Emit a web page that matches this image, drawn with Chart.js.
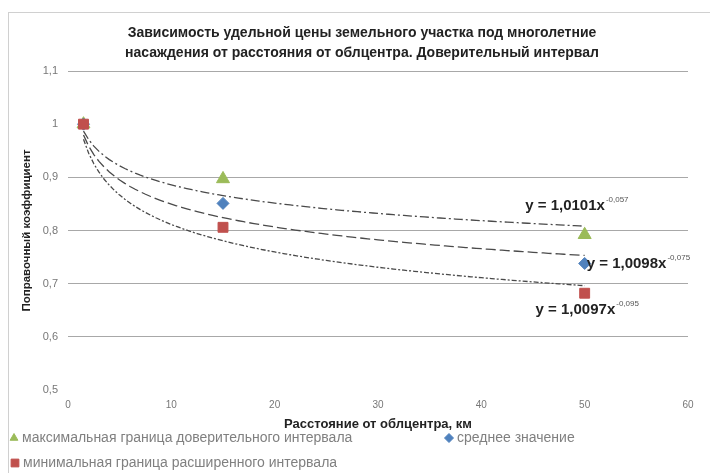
<!DOCTYPE html>
<html>
<head>
<meta charset="utf-8">
<script src="https://cdn.jsdelivr.net/npm/chart.js@4.4.1/dist/chart.umd.min.js"></script>
<style>
  body { margin: 0; background: #fff; }
  #wrap { position: relative; width: 710px; height: 473px; }
  #frame { position: absolute; left: 8px; top: 12px; width: 720px; height: 480px; border: 1px solid #d0d0d0; }
  canvas { position: absolute; left: 0; top: 0; }
</style>
</head>
<body>
<div id="wrap">
  <div id="frame"></div>
  <canvas id="chart" width="710" height="473"></canvas>
</div>
<script>
"use strict"

// data
const distances = [1.5, 15, 50];
const maxBound = [1, 0.897, 0.792];
const meanValue = [1, 0.851, 0.738];
const minBound = [1, 0.806, 0.682];

const seriesNames = [
  "максимальная граница доверительного интервала",
  "среднее значение",
  "минимальная граница расширенного интервала"
];
const seriesColors = ["#9bbb59", "#4f81bd", "#c0504d"];
const seriesShapes = ["triangle", "rectRot", "rect"];

// power trendlines y = a * x^b as printed on the chart
const trendA = [1.0101, 1.0098, 1.0097];
const trendB = [-0.057, -0.075, -0.095];
const trendAText = ["1,0101", "1,0098", "1,0097"];
const trendBText = ["-0,057", "-0,075", "-0,095"];
const trendLabelAt = [[49.2, 0.847, "center"], [50.2, 0.738, "left"], [50.2, 0.65, "center"]];
const trendDash = [[9, 3, 2, 3], [10, 4], [5, 2, 2, 2]];

const titleLines = [
  "Зависимость удельной цены земельного участка под многолетние",
  "насаждения от расстояния от облцентра. Доверительный интервал"
];
const xTitle = "Расстояние от облцентра, км";
const yTitle = "Поправочный коэффициент";

const FONT = "'Liberation Sans', Arial, sans-serif";

function toPoints(ys) {
  return distances.map((d, i) => ({ x: d, y: ys[i] }));
}

function trendPoints(k) {
  let pts = [];
  for (let x = distances[0]; x <= distances[distances.length - 1]; x += 0.5) {
    pts.push({ x: x, y: trendA[k] * Math.pow(x, trendB[k]) });
  }
  return pts;
}

function commaNum(v) {
  return String(Math.round(v * 10) / 10).replace(".", ",");
}

// chart title, centred a little right of the canvas middle as in the original
const titleBlock = {
  id: "titleBlock",
  afterDraw(chart) {
    const ctx = chart.ctx;
    ctx.save();
    ctx.font = "bold 14px " + FONT;
    ctx.fillStyle = "#222";
    ctx.textAlign = "center";
    ctx.textBaseline = "middle";
    ctx.fillText(titleLines[0], 362, 33);
    ctx.fillText(titleLines[1], 362, 53);
    ctx.restore();
  }
};

// writes the trendline equations next to the curves
const equationLabels = {
  id: "equationLabels",
  afterDatasetsDraw(chart) {
    const ctx = chart.ctx;
    const xs = chart.scales.x;
    const ys = chart.scales.y;
    ctx.save();
    ctx.textBaseline = "middle";
    ctx.textAlign = "left";
    for (let k = 0; k < trendA.length; k++) {
      const main = "y = " + trendAText[k] + "x";
      ctx.font = "bold 15px " + FONT;
      const w1 = ctx.measureText(main).width;
      ctx.font = "8px " + FONT;
      const w2 = ctx.measureText(trendBText[k]).width;
      const px = xs.getPixelForValue(trendLabelAt[k][0]);
      const py = ys.getPixelForValue(trendLabelAt[k][1]);
      const left = trendLabelAt[k][2] === "center" ? px - (w1 + w2) / 2 : px;
      ctx.font = "bold 15px " + FONT;
      ctx.fillStyle = "#222";
      ctx.fillText(main, left, py);
      ctx.font = "8px " + FONT;
      ctx.fillStyle = "#555";
      ctx.fillText(trendBText[k], left + w1 + 1, py - 6);
    }
    ctx.restore();
  }
};

// legend laid out like the original: two items on the first row, one on the second
const legendSlots = [[14, 438], [449, 438], [15, 463]];
const legendRadius = [4.5, 4.5, 5.5];
const bottomLegend = {
  id: "bottomLegend",
  afterDraw(chart) {
    const ctx = chart.ctx;
    ctx.save();
    ctx.font = "14px " + FONT;
    ctx.textBaseline = "middle";
    ctx.textAlign = "left";
    for (let i = 0; i < seriesNames.length; i++) {
      const [x, y] = legendSlots[i];
      ctx.fillStyle = seriesColors[i];
      ctx.strokeStyle = seriesColors[i];
      Chart.helpers.drawPoint(ctx, { pointStyle: seriesShapes[i], radius: legendRadius[i], borderWidth: 1 }, x, y);
      ctx.fillStyle = "#808080";
      ctx.fillText(seriesNames[i], x + 8, y);
    }
    ctx.restore();
  }
};

const datasets = [];
for (let k = 0; k < 3; k++) {
  datasets.push({
    label: "trend" + k,
    data: trendPoints(k),
    showLine: true,
    borderColor: "#4a4a4a",
    borderWidth: 1.3,
    borderDash: trendDash[k],
    pointRadius: 0,
    fill: false,
    order: 5
  });
}
const radii = [7.5, 6, 7];
for (let i = 0; i < 3; i++) {
  datasets.push({
    label: seriesNames[i],
    data: toPoints([maxBound, meanValue, minBound][i]),
    pointStyle: seriesShapes[i],
    pointRadius: radii[i],
    backgroundColor: seriesColors[i],
    borderColor: seriesColors[i],
    order: 3 - i
  });
}

const ctx = document.getElementById("chart").getContext("2d");
const chart = new Chart(ctx, {
  type: "scatter",
  data: { datasets: datasets },
  plugins: [titleBlock, equationLabels, bottomLegend],
  options: {
    responsive: false,
    animation: false,
    layout: { padding: { left: 10, right: 22, top: 71, bottom: 41 } },
    plugins: {
      legend: { display: false },
      tooltip: { enabled: false }
    },
    scales: {
      x: {
        min: 0,
        max: 60,
        afterFit: scale => { scale.height = 42; },
        ticks: { stepSize: 10, color: "#777", font: { family: FONT, size: 10 }, padding: 9 },
        grid: { display: false, drawTicks: false },
        border: { display: false },
        title: {
          display: true,
          text: xTitle,
          color: "#222",
          font: { family: FONT, size: 13, weight: "bold" },
          padding: { top: 0, bottom: 0 }
        }
      },
      y: {
        min: 0.5,
        max: 1.1,
        afterFit: scale => { scale.width = 58; },
        ticks: {
          stepSize: 0.1,
          color: "#777",
          font: { family: FONT, size: 11 },
          padding: 10,
          callback: v => commaNum(v)
        },
        grid: {
          drawTicks: false,
          color: c => (Math.abs(c.tick.value - 1) < 1e-6 || Math.abs(c.tick.value - 0.5) < 1e-6) ? "rgba(0,0,0,0)" : "#a8a8a8"
        },
        border: { display: false },
        title: {
          display: true,
          text: yTitle,
          color: "#222",
          font: { family: FONT, size: 11.5, weight: "bold" },
          padding: { top: 10, bottom: 4 }
        }
      }
    }
  }
});
</script>
</body>
</html>
